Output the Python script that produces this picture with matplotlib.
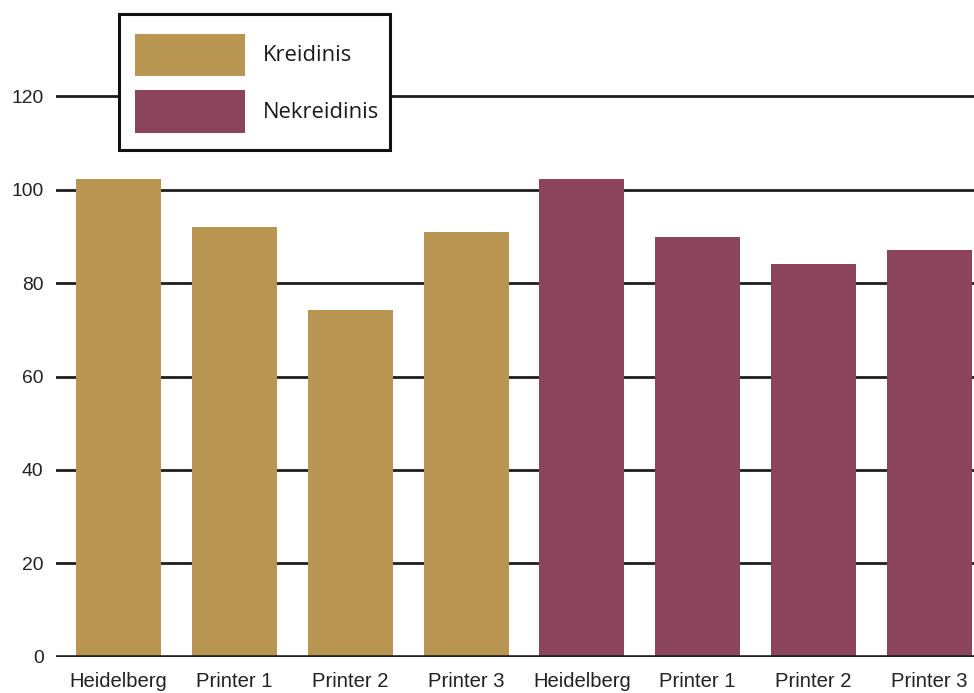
import matplotlib
matplotlib.use("Agg")
import matplotlib.pyplot as plt
from matplotlib.patches import Rectangle

# ==========================================
# Data
# ==========================================

printers = ["Heidelberg", "Printer 1", "Printer 2", "Printer 3"]
series_names = ["Kreidinis", "Nekreidinis"]
kreidinis = [102.3, 92.1, 74.3, 90.9]
nekreidinis = [102.3, 89.8, 84.0, 87.1]
colors = ["#B89651", "#8C445C"]
yticks = [0, 20, 40, 60, 80, 100, 120]

W, H = 974, 693

fig = plt.figure(figsize=(W / 100, H / 100), dpi=100)
ax = fig.add_axes([56 / W, (H - 656.7) / H, 1 - 56 / W, 140 * 4.67 / H])

labels = printers + printers
values = kreidinis + nekreidinis
bar_colors = [colors[0]] * len(kreidinis) + [colors[1]] * len(nekreidinis)
x = list(range(len(values)))

ax.bar(x, values, width=0.735, color=bar_colors, zorder=2)

ax.set_xlim(-0.541, 7.386)
ax.set_ylim(0, 140)
ax.set_yticks(yticks)
ax.set_xticks(x)
ax.set_xticklabels(labels)

for s in ax.spines.values():
    s.set_visible(False)

ax.grid(axis="y", color="#1e1e1e", linewidth=2.0, zorder=1)
ax.axhline(0, color="#1e1e1e", linewidth=2.6, zorder=3)
ax.tick_params(length=0)
ax.tick_params(axis="y", pad=9, labelsize=13.9, labelcolor="#222222")
ax.tick_params(axis="x", pad=11, labelsize=14.6, labelcolor="#222222")
for t in ax.get_xticklabels() + ax.get_yticklabels():
    t.set_fontfamily("Liberation Sans")

# ==========================================
# Legend box (drawn in pixel coordinates)
# ==========================================

def px(x0, y0):
    return x0 / W, 1 - y0 / H

box_x, box_y = px(118.5, 149.5)
fig.add_artist(Rectangle((box_x, box_y), 271 / W, 136 / H,
                         transform=fig.transFigure, facecolor="white",
                         edgecolor="#111111", linewidth=2.2, zorder=5))

rows = [(33.7, 76.0), (90.3, 132.7)]
for (top, bot), name, c in zip(rows, series_names, colors):
    rx, ry = px(135.3, bot)
    fig.add_artist(Rectangle((rx, ry), 109.4 / W, (bot - top) / H,
                             transform=fig.transFigure, facecolor=c,
                             edgecolor="none", zorder=6))
    tx, ty = px(263, (top + bot) / 2 + 1)
    fig.text(tx, ty, name, fontsize=15.8, family="Open Sans",
             color="#1a1a1a", va="center", ha="left", zorder=7)

plt.savefig("out.png", dpi=100)
